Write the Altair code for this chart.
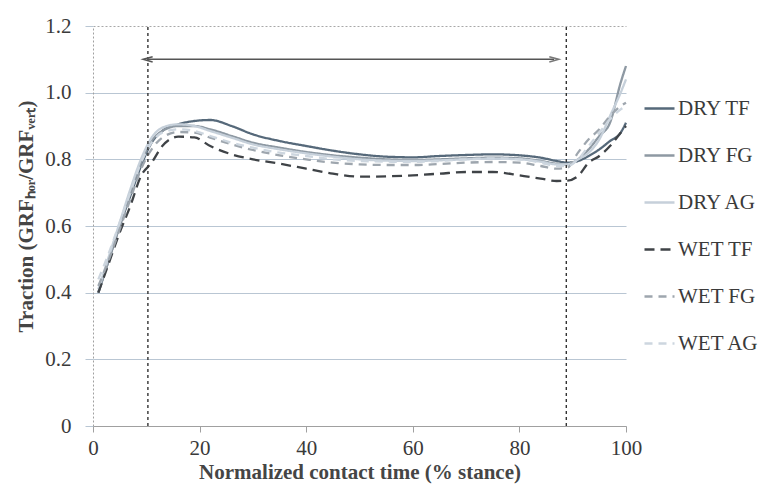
import altair as alt
import pandas as pd

# ---- data ----
series_names = ["DRY TF", "DRY FG", "DRY AG", "WET TF", "WET FG", "WET AG"]
x_pct = [1, 3, 5, 7, 9, 11, 13, 16, 19, 22, 26, 30, 35, 40, 45, 50, 55, 60, 65, 70,
         75, 80, 84, 87, 89, 91, 93, 95, 97, 99, 100]
dry_tf = [0.40, 0.50, 0.60, 0.69, 0.78, 0.85, 0.885, 0.905, 0.915, 0.918, 0.90, 0.875, 0.855,
          0.84, 0.826, 0.815, 0.808, 0.806, 0.81, 0.813, 0.815, 0.812, 0.805, 0.795, 0.79,
          0.795, 0.81, 0.83, 0.855, 0.88, 0.91]
dry_fg = [0.40, 0.50, 0.60, 0.70, 0.79, 0.855, 0.885, 0.90, 0.90, 0.89, 0.87, 0.85, 0.835,
          0.822, 0.812, 0.805, 0.80, 0.798, 0.80, 0.803, 0.805, 0.803, 0.795, 0.787, 0.785,
          0.80, 0.83, 0.87, 0.91, 1.03, 1.08]
dry_ag = [0.41, 0.51, 0.61, 0.71, 0.80, 0.865, 0.895, 0.905, 0.90, 0.885, 0.865, 0.845, 0.83,
          0.818, 0.808, 0.80, 0.796, 0.795, 0.797, 0.80, 0.802, 0.80, 0.793, 0.785, 0.785,
          0.80, 0.82, 0.86, 0.93, 1.00, 1.04]
wet_tf = [0.40, 0.49, 0.58, 0.66, 0.75, 0.79, 0.84, 0.868, 0.866, 0.84, 0.815, 0.80, 0.787,
          0.772, 0.757, 0.748, 0.749, 0.752, 0.757, 0.762, 0.762, 0.752, 0.742, 0.735, 0.736,
          0.75, 0.79, 0.81, 0.84, 0.88, 0.90]
wet_fg = [0.42, 0.50, 0.59, 0.68, 0.77, 0.83, 0.865, 0.882, 0.88, 0.865, 0.845, 0.828, 0.812,
          0.80, 0.79, 0.785, 0.783, 0.783, 0.786, 0.79, 0.792, 0.79, 0.78, 0.772, 0.775,
          0.82, 0.86, 0.89, 0.93, 0.96, 0.97]
wet_ag = [0.44, 0.52, 0.61, 0.70, 0.79, 0.85, 0.88, 0.89, 0.885, 0.87, 0.85, 0.835, 0.82,
          0.81, 0.80, 0.795, 0.793, 0.792, 0.795, 0.80, 0.803, 0.80, 0.79, 0.78, 0.78,
          0.80, 0.84, 0.88, 0.92, 0.95, 0.96]
phase_bounds = [10.3, 88.8]
arrow_span = [10.3, 86.5]
arrow_level = 1.10
x_ticks = [0, 20, 40, 60, 80, 100]
y_ticks = [0, 0.2, 0.4, 0.6, 0.8, 1.0, 1.2]

colors = ["#56697a", "#8e99a3", "#c6d0da", "#3f4347", "#9ea6ae", "#cdd6df"]
dashes = [[1, 0], [1, 0], [1, 0], [10, 6], [8, 6], [8, 6]]

all_y = [dry_tf, dry_fg, dry_ag, wet_tf, wet_fg, wet_ag]
rows = []
for name, ys in zip(series_names, all_y):
    for xv, yv in zip(x_pct, ys):
        rows.append({"x": xv, "y": yv, "series": name})
df = pd.DataFrame(rows)

FONT = "Liberation Serif"

xenc = alt.X("x:Q", scale=alt.Scale(domain=[0, 100], nice=False),
             axis=alt.Axis(values=x_ticks, grid=False, labelFlush=False,
                           title="Normalized contact time (% stance)",
                           domainColor="#a0a0a0", tickColor="#a0a0a0", tickSize=6,
                           labelPadding=5, titlePadding=3))
yenc = alt.Y("y:Q", scale=alt.Scale(domain=[0, 1.2], nice=False),
             axis=alt.Axis(values=y_ticks, grid=True,
                           labelExpr="datum.value == 0 ? '0' : format(datum.value, '.1f')",
                           title="Traction (GRFₕₒᵣ/GRFᵥₑᵣₜ)",
                           gridColor={"condition": {"test": "datum.value == 1.2", "value": "#a8a8a8"},
                                      "value": "#b9c6d3"},
                           gridDash={"condition": {"test": "datum.value == 1.2", "value": [2, 2]},
                                     "value": []},
                           domainColor="#a0a0a0", domainDash=[2, 2],
                           tickColor="#b9c6d3", tickSize=8, labelPadding=14,
                           titleX=-67, titleY=190, titleAngle=270,
                           titleAlign="center", titleBaseline="middle"))

lines = alt.Chart(df).mark_line(interpolate="monotone", strokeWidth=2.3).encode(
    x=xenc, y=yenc,
    color=alt.Color("series:N", sort=series_names,
                    scale=alt.Scale(domain=series_names, range=colors), title=None),
    strokeDash=alt.StrokeDash("series:N", sort=series_names,
                              scale=alt.Scale(domain=series_names, range=dashes), title=None),
)

vdf = pd.DataFrame({"x": phase_bounds})
vrules = alt.Chart(vdf).mark_rule(color="#333333", strokeWidth=1.4, strokeDash=[3, 3]).encode(
    x="x:Q", y=alt.datum(0), y2=alt.datum(1.2))

adf = pd.DataFrame({"x1": [arrow_span[0]], "x2": [arrow_span[1]], "y": [arrow_level]})
arrow = alt.Chart(adf).mark_rule(color="#555555", strokeWidth=1.5).encode(
    x="x1:Q", x2="x2:Q", y="y:Q")

hdf = pd.DataFrame({"x": arrow_span, "y": [arrow_level, arrow_level],
                    "side": ["left", "right"]})
head_l = alt.Chart(hdf[hdf.side == "left"]).mark_point(
    shape="M 1 -0.55 L -1 0 L 1 0.55", filled=False, size=90, color="#555555",
    strokeWidth=1.5, opacity=1).encode(x="x:Q", y="y:Q")
head_r = alt.Chart(hdf[hdf.side == "right"]).mark_point(
    shape="M -1 -0.55 L 1 0 L -1 0.55", filled=False, size=90, color="#777777",
    strokeWidth=1.5, opacity=1).encode(x="x:Q", y="y:Q")

chart = alt.layer(lines, vrules, arrow, head_l, head_r).properties(
    width=533, height=400,
    autosize=alt.AutoSizeParams(type="none"),
    padding={"left": 85, "top": 18, "right": 137, "bottom": 60},
).configure_view(stroke=None).configure_axis(
    labelFont=FONT, labelFontSize=21, labelColor="#3a3a3a",
    titleFont=FONT, titleFontSize=21, titleFontWeight="bold", titleColor="#454545",
).configure_legend(
    orient="none", legendX=550, legendY=66,
    symbolType="stroke", symbolSize=900, symbolStrokeWidth=2.5,
    labelFont=FONT, labelFontSize=21, labelColor="#3a3a3a",
    rowPadding=20, labelOffset=2, labelLimit=200,
)

chart.save("out.html", embed_options={"renderer": "svg", "actions": False})
